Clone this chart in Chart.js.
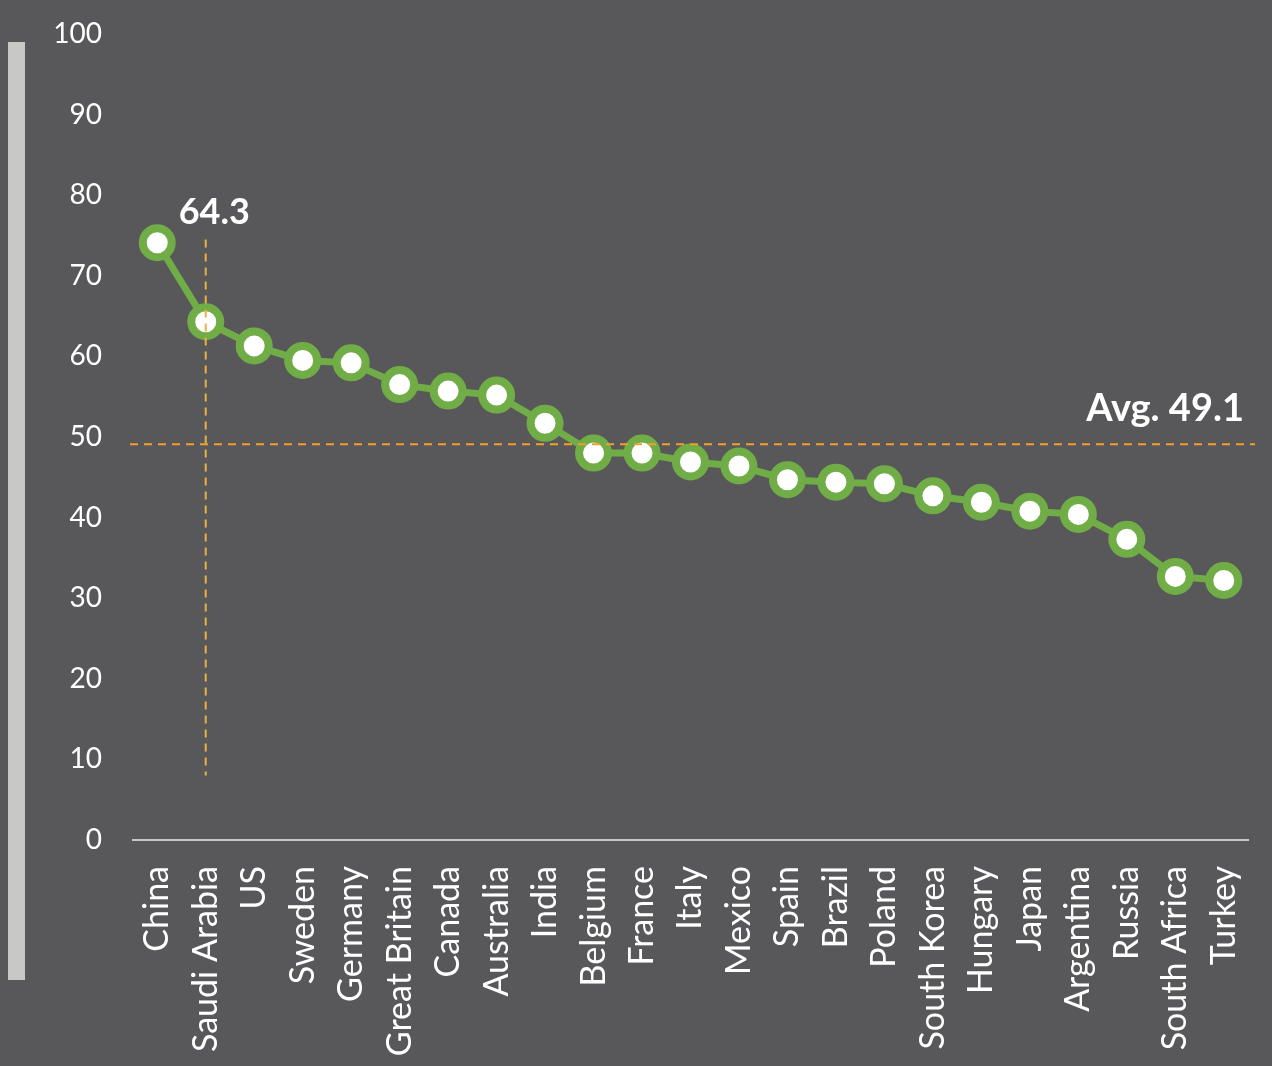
<!DOCTYPE html>
<html>
<head>
<meta charset="utf-8">
<script src="https://cdn.jsdelivr.net/npm/chart.js@4.4.1/dist/chart.umd.min.js"></script>
<style>
  html, body { margin: 0; padding: 0; background: #58585a; }
  #wrap { position: relative; width: 1272px; height: 1066px; }
  #bar { position: absolute; left: 8px; top: 42px; width: 17px; height: 938px; background: #c8c8c6; }
</style>
</head>
<body>
<div id="wrap">
  <div id="bar"></div>
  <canvas id="chart" width="1272" height="1066"></canvas>
</div>
<script>
// --- data ---
const countries = ['China', 'Saudi Arabia', 'US', 'Sweden', 'Germany', 'Great Britain', 'Canada', 'Australia',
  'India', 'Belgium', 'France', 'Italy', 'Mexico', 'Spain', 'Brazil', 'Poland', 'South Korea', 'Hungary',
  'Japan', 'Argentina', 'Russia', 'South Africa', 'Turkey'];
const scores = [74.1, 64.3, 61.3, 59.5, 59.2, 56.5, 55.7, 55.2, 51.7, 48.0, 48.0, 46.9, 46.4, 44.7, 44.4, 44.2,
  42.7, 41.9, 40.8, 40.4, 37.3, 32.7, 32.2];
const yTicks = [0, 10, 20, 30, 40, 50, 60, 70, 80, 90, 100];
const avgValue = 49.1;
const highlightIndex = 1;
const highlightRange = [74.5, 8];

const FONT = 'Lato, "Open Sans", sans-serif';

// reference lines and labels
const refLines = {
  id: 'refLines',
  afterDatasetsDraw(chart) {
    const { ctx, scales: { x, y } } = chart;
    ctx.save();
    ctx.lineWidth = 2;
    ctx.setLineDash([8, 6]);
    // avg line
    const ya = y.getPixelForValue(avgValue);
    ctx.strokeStyle = '#f0a028';
    ctx.beginPath();
    ctx.moveTo(x.left - 3, ya);
    ctx.lineTo(x.right + 7, ya);
    ctx.stroke();
    // highlight vertical
    const xs = x.getPixelForValue(highlightIndex);
    ctx.strokeStyle = '#e8b23c';
    ctx.beginPath();
    ctx.moveTo(xs, y.getPixelForValue(highlightRange[0]));
    ctx.lineTo(xs, y.getPixelForValue(highlightRange[1]));
    ctx.stroke();
    ctx.setLineDash([]);
    // labels
    ctx.fillStyle = '#ffffff';
    ctx.textBaseline = 'alphabetic';
    ctx.font = 'bold 36px ' + FONT;
    ctx.textAlign = 'left';
    ctx.fillText(scores[highlightIndex].toFixed(1), xs - 27, y.getPixelForValue(highlightRange[0]) - 16);
    ctx.font = 'bold 38px ' + FONT;
    ctx.textAlign = 'right';
    ctx.fillText('Avg. ' + avgValue.toFixed(1), x.right - 4, ya - 23);
    ctx.restore();
  }
};

new Chart(document.getElementById('chart'), {
  type: 'line',
  data: {
    labels: countries,
    datasets: [{
      data: scores,
      borderColor: '#70ad47',
      borderWidth: 7,
      pointRadius: 14.5,
      pointHoverRadius: 14.5,
      pointBorderWidth: 8,
      pointBorderColor: '#70ad47',
      pointBackgroundColor: '#ffffff',
      tension: 0
    }]
  },
  options: {
    responsive: false,
    animation: false,
    layout: { padding: { top: 34, right: 24, bottom: 10, left: 0 } },
    plugins: { legend: { display: false }, tooltip: { enabled: false } },
    scales: {
      x: {
        offset: true,
        grid: { display: false },
        border: { display: true, color: '#c8c8c8', width: 2 },
        ticks: {
          color: '#ffffff',
          font: { family: FONT, size: 34 },
          minRotation: 90,
          maxRotation: 90,
          autoSkip: false,
          padding: 18
        },
        afterFit(scale) {
          scale.height = 216;
          scale.paddingLeft = 0;
          scale.paddingRight = 0;
        }
      },
      y: {
        min: 0,
        max: 100,
        afterBuildTicks(scale) { scale.ticks = yTicks.map(v => ({ value: v })); },
        grid: { display: false },
        border: { display: false },
        ticks: {
          color: '#ffffff',
          font: { family: FONT, size: 28 },
          padding: 23
        },
        afterFit(scale) {
          scale.width = 133;
          scale.paddingTop = 0;
          scale.paddingBottom = 0;
        }
      }
    }
  },
  plugins: [refLines]
});
</script>
</body>
</html>
